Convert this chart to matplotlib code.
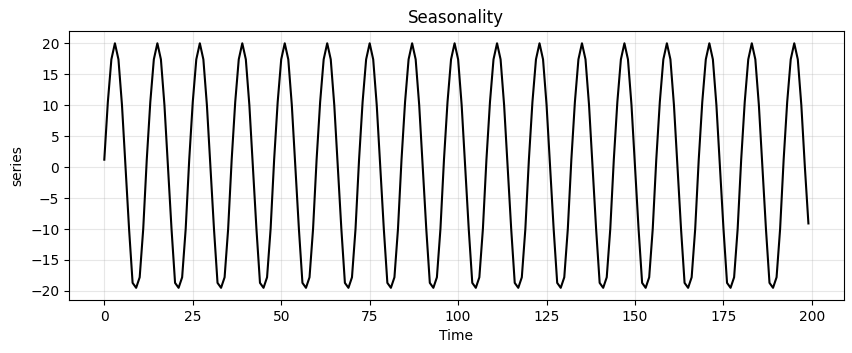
import matplotlib
matplotlib.use("Agg")
import matplotlib.pyplot as plt

# series values, one row per 12-step cycle
series = [
    1.2, 10.5, 17.4, 20.0, 17.4, 10.0, 0.0, -10.0, -18.7, -19.5, -17.8, -10.0,
    1.2, 10.5, 17.4, 20.0, 17.4, 10.0, 0.0, -10.0, -18.7, -19.5, -17.8, -10.0,
    1.2, 10.5, 17.4, 20.0, 17.4, 10.0, 0.0, -10.0, -18.7, -19.5, -17.8, -10.0,
    1.2, 10.5, 17.4, 20.0, 17.4, 10.0, 0.0, -10.0, -18.7, -19.5, -17.8, -10.0,
    1.2, 10.5, 17.4, 20.0, 17.4, 10.0, 0.0, -10.0, -18.7, -19.5, -17.8, -10.0,
    1.2, 10.5, 17.4, 20.0, 17.4, 10.0, 0.0, -10.0, -18.7, -19.5, -17.8, -10.0,
    1.2, 10.5, 17.4, 20.0, 17.4, 10.0, 0.0, -10.0, -18.7, -19.5, -17.8, -10.0,
    1.2, 10.5, 17.4, 20.0, 17.4, 10.0, 0.0, -10.0, -18.7, -19.5, -17.8, -10.0,
    1.2, 10.5, 17.4, 20.0, 17.4, 10.0, 0.0, -10.0, -18.7, -19.5, -17.8, -10.0,
    1.2, 10.5, 17.4, 20.0, 17.4, 10.0, 0.0, -10.0, -18.7, -19.5, -17.8, -10.0,
    1.2, 10.5, 17.4, 20.0, 17.4, 10.0, 0.0, -10.0, -18.7, -19.5, -17.8, -10.0,
    1.2, 10.5, 17.4, 20.0, 17.4, 10.0, 0.0, -10.0, -18.7, -19.5, -17.8, -10.0,
    1.2, 10.5, 17.4, 20.0, 17.4, 10.0, 0.0, -10.0, -18.7, -19.5, -17.8, -10.0,
    1.2, 10.5, 17.4, 20.0, 17.4, 10.0, 0.0, -10.0, -18.7, -19.5, -17.8, -10.0,
    1.2, 10.5, 17.4, 20.0, 17.4, 10.0, 0.0, -10.0, -18.7, -19.5, -17.8, -10.0,
    1.2, 10.5, 17.4, 20.0, 17.4, 10.0, 0.0, -10.0, -18.7, -19.5, -17.8, -10.0,
    1.2, 10.5, 17.4, 20.0, 17.4, 10.0, 0.0, -9.1,
]
time = list(range(len(series)))

fig = plt.figure(figsize=(8.53, 3.53), dpi=100)
ax = fig.add_axes([0.081, 0.150, 0.908, 0.762])

ax.plot(time, series, color="black", linewidth=1.5)
ax.set_title("Seasonality")
ax.set_xlabel("Time")
ax.set_ylabel("series")
ax.grid(True, alpha=0.3)

fig.savefig("out.png", dpi=100)
